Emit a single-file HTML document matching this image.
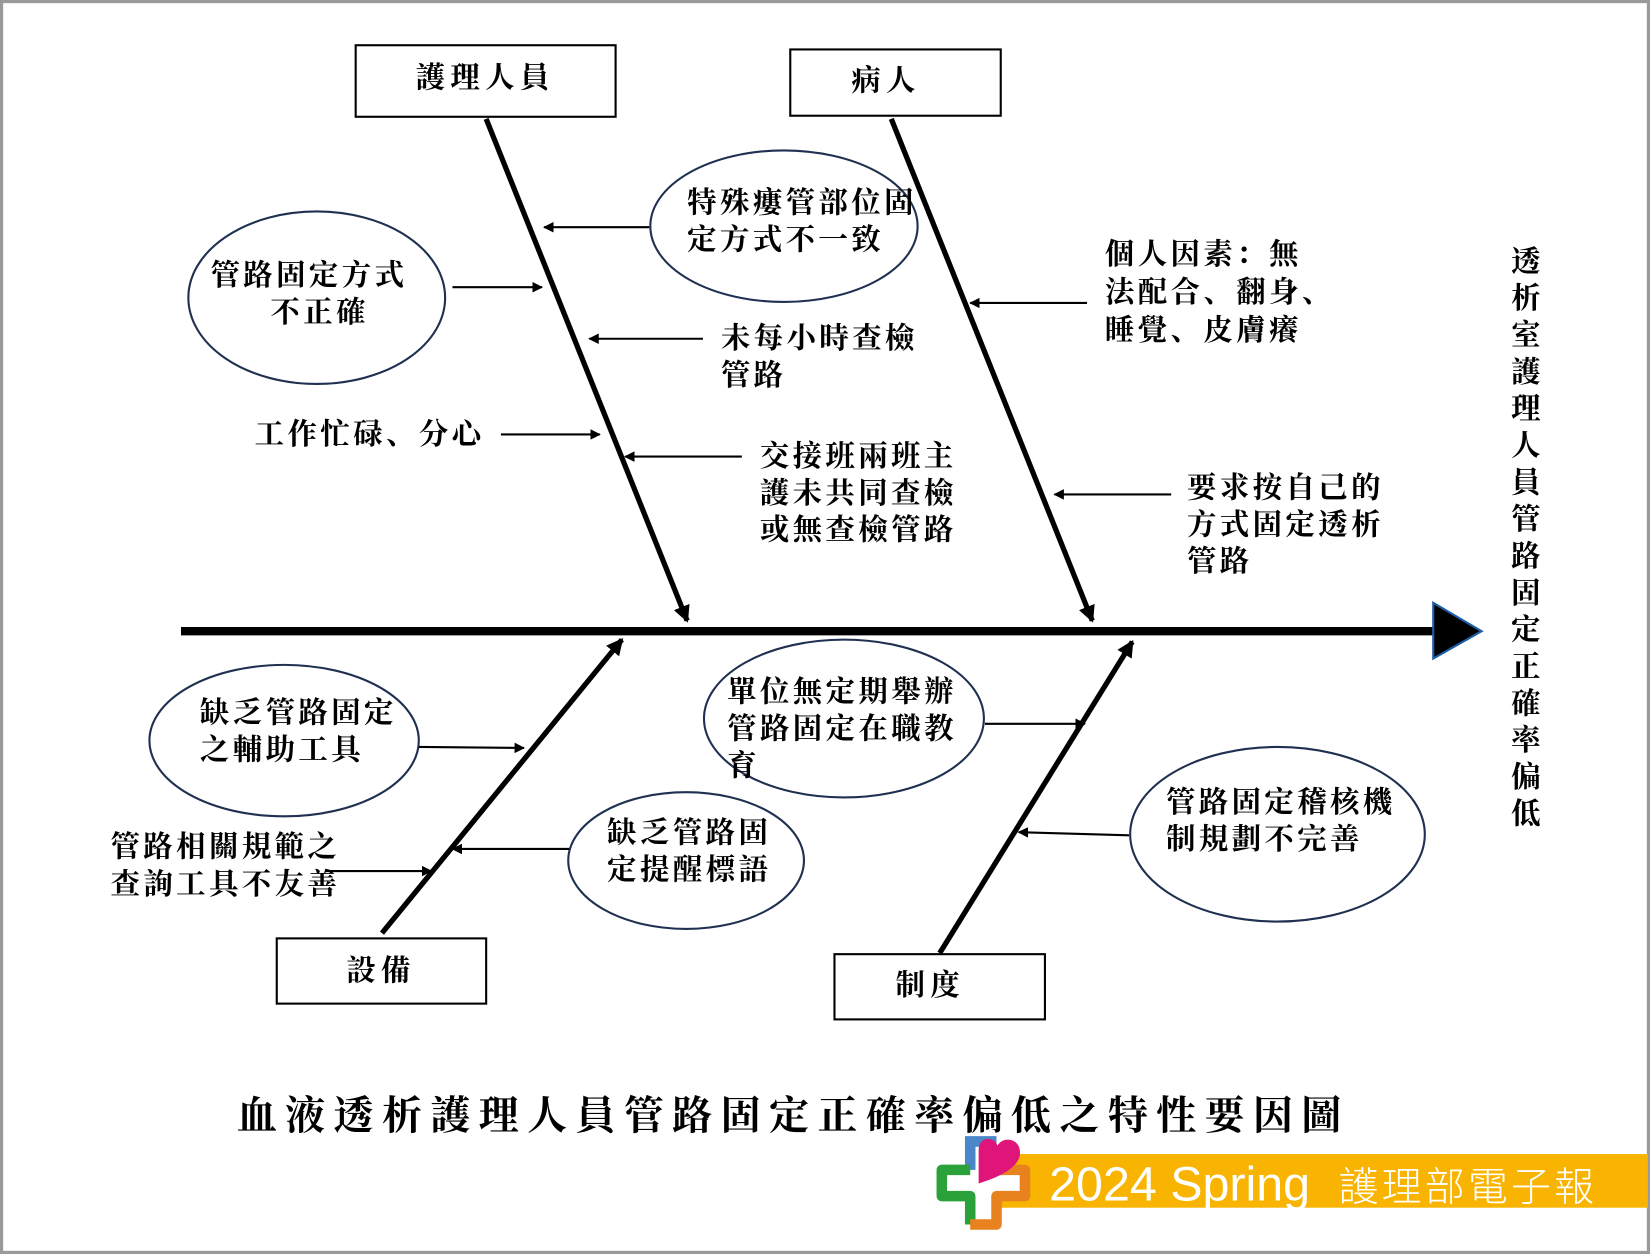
<!DOCTYPE html>
<html><head><meta charset="utf-8"><style>
html,body{margin:0;padding:0;background:#fff;}
svg{display:block;}
text{font-family:"Liberation Serif","Noto Serif CJK SC","Noto Sans CJK TC",serif;font-weight:bold;fill:#000;}
</style></head><body>
<svg width="1650" height="1254" viewBox="0 0 1568 1192" preserveAspectRatio="none" xmlns="http://www.w3.org/2000/svg">
<defs>
<marker id="a" markerWidth="10" markerHeight="10" refX="9" refY="5" orient="auto" markerUnits="userSpaceOnUse" viewBox="0 0 10 10">
<path d="M0,0 L10,5 L0,10 z" fill="#000"/></marker>
<marker id="b" markerWidth="16" markerHeight="16" refX="14" refY="8" orient="auto" markerUnits="userSpaceOnUse" viewBox="0 0 16 16">
<path d="M0,0 L16,8 L0,16 z" fill="#000"/></marker>
</defs>
<rect x="1.5" y="1.5" width="1565" height="1189" fill="#fff" stroke="#999" stroke-width="3"/>
<g fill="#fff" stroke="#000" stroke-width="2">
<rect x="338" y="43" width="247" height="68"/>
<rect x="751" y="47" width="200" height="63"/>
<rect x="263" y="892" width="199" height="62"/>
<rect x="793" y="907" width="200" height="62"/>
</g>
<g font-size="28" text-anchor="middle">
<text x="461" y="83" letter-spacing="5">護理人員</text>
<text x="842" y="86" letter-spacing="5">病人</text>
<text x="362" y="932" letter-spacing="5">設備</text>
<text x="884" y="946" letter-spacing="5">制度</text>
</g>
<line x1="172" y1="600" x2="1362" y2="600" stroke="#000" stroke-width="8"/>
<path d="M1362,573 L1408,600 L1362,626 z" fill="#000" stroke="#1f5fa8" stroke-width="2"/>
<g stroke="#000" stroke-width="5" fill="none">
<line x1="462" y1="113" x2="653" y2="590" marker-end="url(#b)"/>
<line x1="847" y1="113" x2="1038" y2="590" marker-end="url(#b)"/>
<line x1="363" y1="887" x2="591" y2="608" marker-end="url(#b)"/>
<line x1="893" y1="906" x2="1076" y2="610" marker-end="url(#b)"/>
</g>
<g fill="#fff" stroke="#1f3050" stroke-width="2">
<ellipse cx="745" cy="215" rx="127" ry="72"/>
<ellipse cx="301" cy="283" rx="122" ry="82"/>
<ellipse cx="802" cy="683" rx="133" ry="75"/>
<ellipse cx="270" cy="704" rx="128" ry="72"/>
<ellipse cx="652" cy="818" rx="112" ry="65"/>
<ellipse cx="1214" cy="793" rx="140" ry="83"/>
</g>
<g stroke="#000" stroke-width="2" fill="none" marker-end="url(#a)">
<line x1="617" y1="216" x2="517" y2="216"/>
<line x1="430" y1="273" x2="515" y2="273"/>
<line x1="668" y1="322" x2="560" y2="322"/>
<line x1="476" y1="413" x2="570" y2="413"/>
<line x1="705" y1="434" x2="594" y2="434"/>
<line x1="1033" y1="288" x2="922" y2="288"/>
<line x1="1113" y1="470" x2="1002" y2="470"/>
<line x1="398" y1="710" x2="498" y2="711"/>
<line x1="310" y1="828" x2="410" y2="828"/>
<line x1="541" y1="807" x2="430" y2="807"/>
<line x1="936" y1="688" x2="1031" y2="688"/>
<line x1="1073" y1="794" x2="968" y2="791"/>
</g>
<g font-size="28" letter-spacing="3.2">
<text x="653" y="202">特殊瘻管部位固</text><text x="653" y="237">定方式不一致</text>
<text x="200" y="271">管路固定方式</text><text x="257" y="306">不正確</text>
<text x="685" y="331">未每小時查檢</text><text x="685" y="366">管路</text>
<text x="242" y="422">工作忙碌、分心</text>
<text x="722" y="443">交接班兩班主</text><text x="722" y="478">護未共同查檢</text><text x="722" y="513">或無查檢管路</text>
<text x="1050" y="251">個人因素：無</text><text x="1050" y="287">法配合、翻身、</text><text x="1050" y="323">睡覺、皮膚癢</text>
<text x="1128" y="473">要求按自己的</text><text x="1128" y="508">方式固定透析</text><text x="1128" y="543">管路</text>
<text x="691" y="667">單位無定期舉辦</text><text x="691" y="702">管路固定在職教</text><text x="691" y="737">育</text>
<text x="190" y="687">缺乏管路固定</text><text x="190" y="722">之輔助工具</text>
<text x="105" y="814">管路相關規範之</text><text x="105" y="850">查詢工具不友善</text>
<text x="577" y="801">缺乏管路固</text><text x="577" y="836">定提醒標語</text>
<text x="1108" y="772">管路固定稽核機</text><text x="1108" y="807">制規劃不完善</text>
</g>
<g font-size="28" text-anchor="middle">
<text x="1450" y="258">透</text><text x="1450" y="293">析</text><text x="1450" y="328">室</text><text x="1450" y="363">護</text><text x="1450" y="398">理</text><text x="1450" y="433">人</text><text x="1450" y="468">員</text><text x="1450" y="503">管</text><text x="1450" y="538">路</text><text x="1450" y="573">固</text><text x="1450" y="608">定</text><text x="1450" y="643">正</text><text x="1450" y="678">確</text><text x="1450" y="713">率</text><text x="1450" y="748">偏</text><text x="1450" y="783">低</text>
</g>
<text x="225" y="1073" font-size="38" letter-spacing="8">血液透析護理人員管路固定正確率偏低之特性要因圖</text>
<rect x="945" y="1097" width="621" height="51" fill="#f8b400"/>
<g>
<path d="M895,1112 h27 v-27 h25 v27 h27 v25 h-27 v27 h-25 v-27 h-27 z" fill="#fff" stroke="none"/>
<path d="M922,1112 v-27 h25" fill="none" stroke="#4a86c8" stroke-width="10"/>
<path d="M922,1112 h-27 v25 h27 v27" fill="none" stroke="#2aa13a" stroke-width="10" stroke-linejoin="round"/>
<path d="M947,1112 h27 v25 h-27 v27 h-25" fill="none" stroke="#e8821e" stroke-width="10" stroke-linejoin="round"/>
<path d="M930,1093 c0,-12 14,-14 18,-4 c5,-10 24,-7 21,10 c-3,12 -20,20 -39,26 z" fill="#e0157a"/>
</g>
<text x="997" y="1141" font-size="46" style="font-family:'Liberation Sans','Noto Sans CJK TC',sans-serif;font-weight:normal;fill:#fff">2024 Spring</text>
<text x="1272" y="1141" font-size="38" letter-spacing="3" style="font-family:'Noto Sans CJK TC',sans-serif;font-weight:300;fill:#fff">護理部電子報</text>
</svg>
</body></html>
